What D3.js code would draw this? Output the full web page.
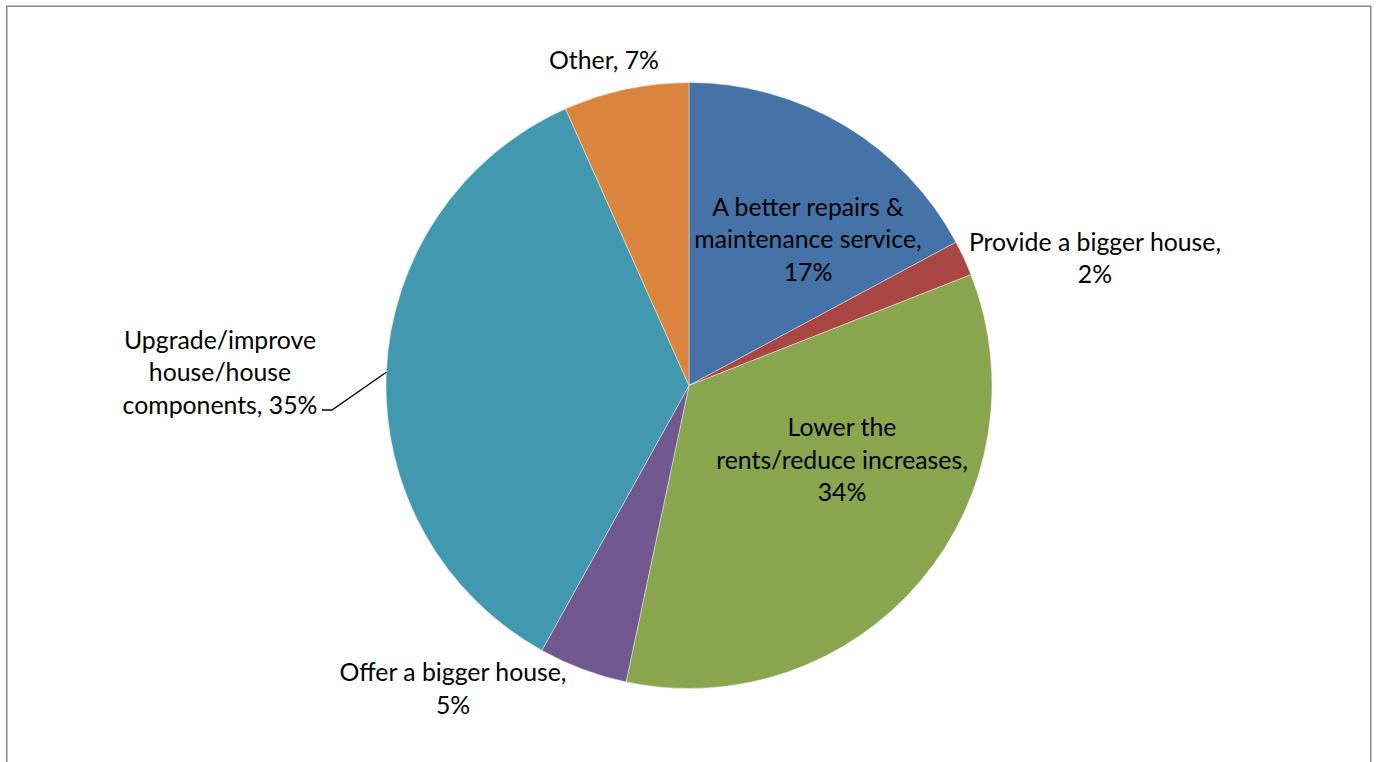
<!DOCTYPE html>
<html>
<head>
<meta charset="utf-8">
<script src="https://cdn.jsdelivr.net/npm/d3@7"></script>
<style>
  html, body { margin: 0; padding: 0; background: #fff; }
  svg { display: block; }
  text { font-family: Lato, "Open Sans", sans-serif; fill: #000; }
</style>
</head>
<body>
<script>
// ---- data ----
const categories = [
  "A better repairs & maintenance service",
  "Provide a bigger house",
  "Lower the rents/reduce increases",
  "Offer a bigger house",
  "Upgrade/improve house/house components",
  "Other"
];
const values = [17.16, 1.88, 34.29, 4.74, 35.25, 6.68];
const percentLabels = ["17%", "2%", "34%", "5%", "35%", "7%"];
const labelLines = [
  ["A better repairs &", "maintenance service,", "17%"],
  ["Provide a bigger house,", "2%"],
  ["Lower the", "rents/reduce increases,", "34%"],
  ["Offer a bigger house,", "5%"],
  ["Upgrade/improve", "house/house", "components, 35%"],
  ["Other, 7%"]
];
const colors = ["#4572A7", "#AA4643", "#89A54E", "#71588F", "#4198AF", "#DB843D"];

// ---- layout ----
const W = 1376, H = 762;
const cx = 689, cy = 385.5, R = 303;
const lineH = 32.5;
// label block centres (first line) relative to pie centre
const labelOffsets = [
  [119, -178.5],
  [406, -143.5],
  [153, 42],
  [-236, 287],
  [-469, -45.5],
  [-85, -325.5]
];

const svg = d3.select("body").append("svg")
  .attr("width", W).attr("height", H);

// border (open at bottom, as in the reference crop)
svg.append("path")
  .attr("d", `M6.75,${H + 2} V6.25 H1370.75 V${H + 2}`)
  .attr("fill", "none")
  .attr("stroke", "#898989")
  .attr("stroke-width", 1.5);

const pie = d3.pie().sort(null).value(d => d)(values);
const arc = d3.arc().innerRadius(0).outerRadius(R);

const g = svg.append("g").attr("transform", `translate(${cx},${cy})`);

g.selectAll("path.slice")
  .data(pie)
  .join("path")
  .attr("class", "slice")
  .attr("d", arc)
  .attr("fill", (d, i) => colors[i])
  .attr("stroke", "#ffffff")
  .attr("stroke-width", 0.6)
  .attr("stroke-opacity", 0.7);

// leader line for the "Upgrade" label (to the slice's mid-angle on the rim)
const tealArc = pie[4];
const leaderAngle = (tealArc.startAngle + tealArc.endAngle) / 2;
const ex = R * Math.sin(leaderAngle), ey = -R * Math.cos(leaderAngle);
g.append("polyline")
  .attr("points", [[-367, 24.5], [-357, 24.5], [ex, ey]].map(p => p.join(",")).join(" "))
  .attr("fill", "none")
  .attr("stroke", "#000")
  .attr("stroke-width", 1.3);

// labels
const labels = g.selectAll("text.lbl")
  .data(labelLines)
  .join("text")
  .attr("class", "lbl")
  .attr("text-anchor", "middle")
  .attr("font-size", 24.8);

labels.each(function (lines, i) {
  const t = d3.select(this);
  lines.forEach((ln, k) => {
    t.append("tspan")
      .attr("x", labelOffsets[i][0])
      .attr("y", labelOffsets[i][1] + k * lineH)
      .attr("dy", "0.35em")
      .text(ln);
  });
});
</script>
</body>
</html>
